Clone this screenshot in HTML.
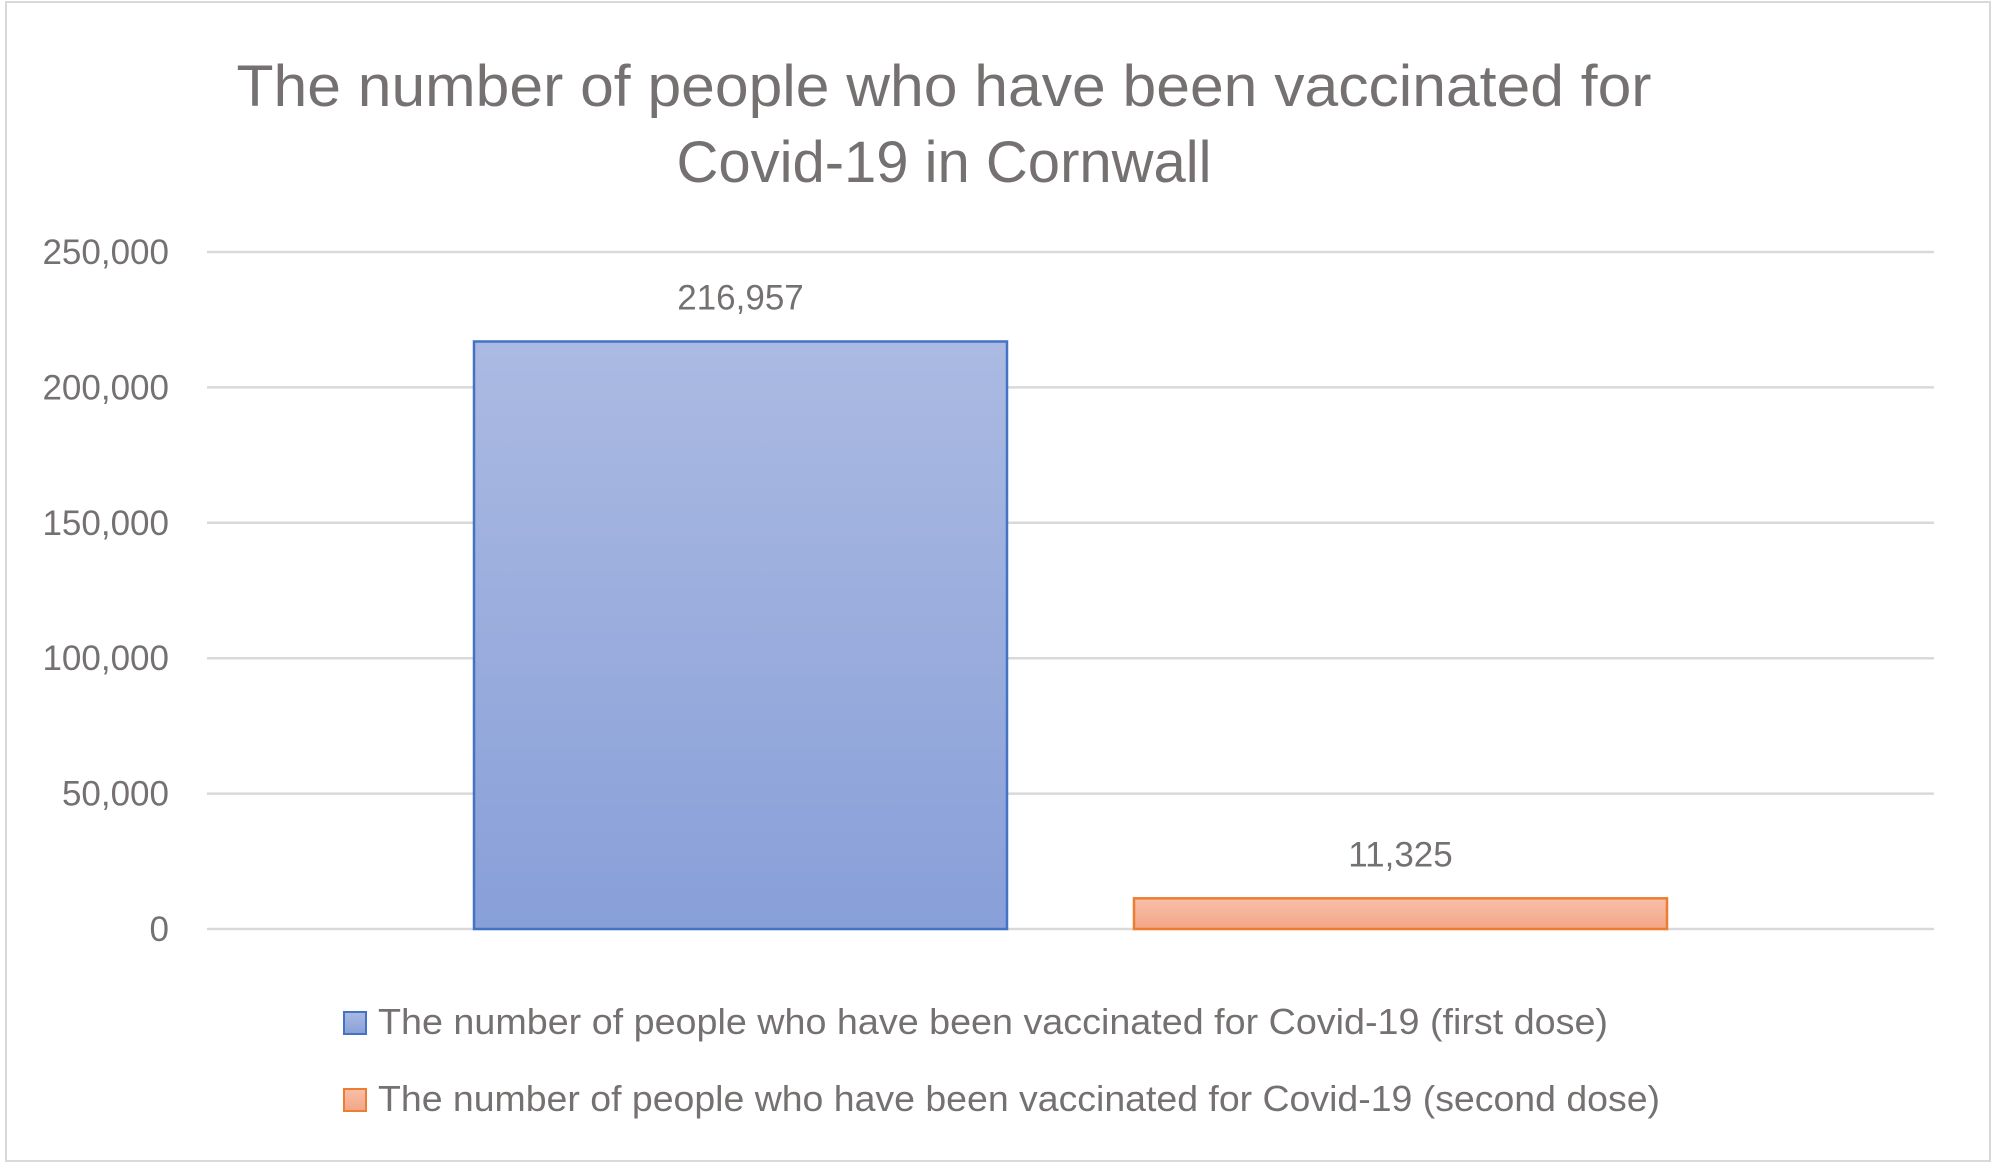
<!DOCTYPE html>
<html><head><meta charset="utf-8"><style>
html,body{margin:0;padding:0;background:#fff;}
svg{display:block;font-family:"Liberation Sans",sans-serif;}
</style></head><body>
<svg id="chart" width="1993" height="1168" viewBox="0 0 1993 1168" xmlns="http://www.w3.org/2000/svg">
<defs>
<linearGradient id="gBlue" x1="0" y1="0" x2="0" y2="1"><stop offset="0" stop-color="#abbae2"/><stop offset="1" stop-color="#889fd8"/></linearGradient>
<linearGradient id="gOrange" x1="0" y1="0" x2="0" y2="1"><stop offset="0" stop-color="#f6c0a8"/><stop offset="1" stop-color="#f4a586"/></linearGradient>
</defs>
<rect x="6" y="2" width="1984" height="1159" fill="#fff" stroke="#d9d9d9" stroke-width="2"/>
<text x="944" y="106" text-anchor="middle" font-size="58" fill="#767171" textLength="1415" lengthAdjust="spacingAndGlyphs">The number of people who have been vaccinated for</text>
<text x="944" y="182" text-anchor="middle" font-size="58" fill="#767171">Covid-19 in Cornwall</text>
<g id="grid"></g>
<g id="yticks"></g>
<g id="bars"></g>
<g id="labels"></g>
<g>
<rect x="344" y="1012" width="22" height="22" fill="url(#gBlue)" stroke="#4472c4" stroke-width="2"/>
<text x="378" y="1034" font-size="36" fill="#767171" textLength="1230" lengthAdjust="spacingAndGlyphs">The number of people who have been vaccinated for Covid-19 (first dose)</text>
<rect x="344" y="1089" width="22" height="22" fill="url(#gOrange)" stroke="#ed7d31" stroke-width="2"/>
<text x="378" y="1111" font-size="36" fill="#767171" textLength="1282" lengthAdjust="spacingAndGlyphs">The number of people who have been vaccinated for Covid-19 (second dose)</text>
</g>
</svg>
<script>
const categories = ["first dose", "second dose"];
const values = [216957, 11325];
const valueLabels = ["216,957", "11,325"];
const yTicks = [0, 50000, 100000, 150000, 200000, 250000];
const yTickLabels = ["0", "50,000", "100,000", "150,000", "200,000", "250,000"];

const NS = "http://www.w3.org/2000/svg";
const plot = {left: 207, right: 1934, top: 252, bottom: 929};
const yMax = 250000;
function y(v){ return plot.bottom - (v / yMax) * (plot.bottom - plot.top); }
const barW = 533;
const barGap = 660;
function xCenter(i){ const mid = (plot.left + plot.right) / 2; return mid + (i - (categories.length - 1) / 2) * barGap; }
function mk(tag, attrs, parent){ const e = document.createElementNS(NS, tag); for (const k in attrs) e.setAttribute(k, attrs[k]); parent.appendChild(e); return e; }

const grid = document.getElementById('grid'), yt = document.getElementById('yticks');
yTicks.forEach((t, i) => {
  const l = mk('line', {x1: plot.left, x2: plot.right, y1: y(t), y2: y(t), stroke: '#d9d9d9', 'stroke-width': 2.5}, grid);
  
  
  const tx = mk('text', {x: 169, y: y(t) + 12, 'text-anchor': 'end', 'font-size': 35, fill: '#767171'}, yt);
  tx.textContent = yTickLabels[i];
  
  
});
const fills = ['url(#gBlue)', 'url(#gOrange)'], strokes = ['#4472c4', '#ed7d31'];
const bars = document.getElementById('bars'), labels = document.getElementById('labels');
values.forEach((v, i) => {
  const cx = xCenter(i);
  const r = mk('rect', {x: cx - barW / 2, y: y(v), width: barW, height: plot.bottom - y(v), fill: fills[i], stroke: strokes[i], 'stroke-width': 2.5}, bars);
  
  
  const t = mk('text', {x: cx, y: y(v) - 32, 'text-anchor': 'middle', 'font-size': 35, fill: '#767171'}, labels);
  t.textContent = valueLabels[i];
  
  
});
</script>
</body></html>
